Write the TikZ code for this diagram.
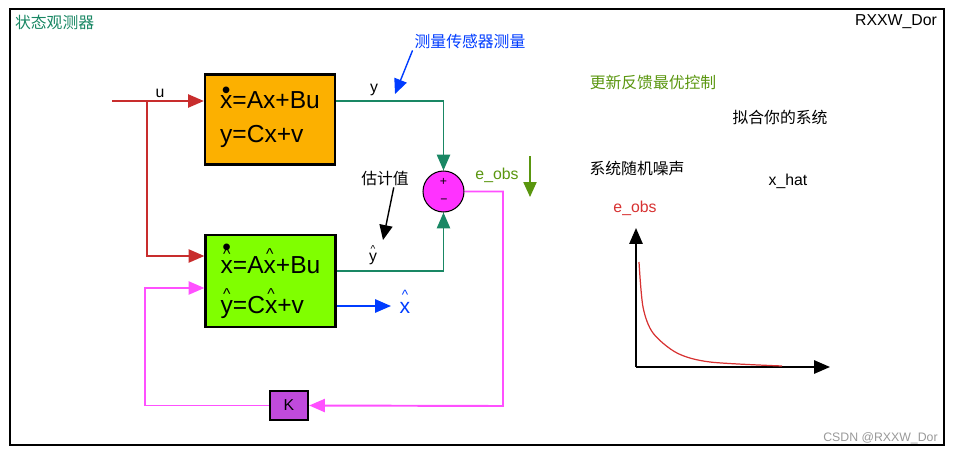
\documentclass[tikz,border=0pt]{standalone}
\usepackage{fontspec}
\usepackage{graphicx}
\setmainfont{Liberation Sans}
\newfontfamily\cjk{Noto Sans CJK SC}
\usetikzlibrary{arrows.meta}

\definecolor{sysorange}{RGB}{252,176,0}
\definecolor{obsgreen}{RGB}{128,255,0}
\definecolor{sigred}{RGB}{200,45,45}
\definecolor{sigteal}{RGB}{25,135,100}
\definecolor{sigmag}{RGB}{255,80,255}
\definecolor{sumfill}{RGB}{255,50,255}
\definecolor{gainfill}{RGB}{192,74,220}
\definecolor{sigblue}{RGB}{0,60,255}
\definecolor{noiseolive}{RGB}{90,150,15}
\definecolor{errred}{RGB}{215,50,50}

% mark set above a letter, keeping the letter's width
\newcommand\putabove[3]{\leavevmode\setbox0\hbox{#3}\hbox to\wd0{\hss\raisebox{#1}[0pt][0pt]{#2}\hss}\kern-\wd0\box0}
\newcommand\hatover[2][0.54em]{\putabove{#1}{\scalebox{0.64}{\textasciicircum}}{#2}}
\newcommand\dotover[2][0.38em]{\putabove{#1}{\textbullet}{#2}}

\tikzset{
  flow/.style={line width=1.1pt, -{Triangle[length=9pt,width=7.5pt]}},
  notearrow/.style={line width=0.8pt, -{Triangle[length=8.5pt,width=7.5pt]}},
  blockbox/.style={draw, line width=1.3pt, minimum width=2.6cm, minimum height=1.8cm,
    align=left, font=\fontsize{14}{19.8}\selectfont},
  lbl/.style={font=\fontsize{9}{11}\selectfont, inner sep=1pt},
  cjklbl/.style={font=\cjk\fontsize{9}{11}\selectfont, inner sep=1pt},
}

\begin{document}
\begin{tikzpicture}[x=0.02cm,y=-0.02cm]
    \useasboundingbox (0,0) rectangle (953,456);
    \draw[line width=1.3pt] (10,9) rectangle (944,445);

    \node[cjklbl, anchor=west, text=sigteal] (title) at (13,22) {状态观测器};
    \node[lbl, anchor=east] (author) at (939,22) {RXXW\_Dor};

    % blocks
    \node[blockbox, fill=sysorange] (plant) at (270,119.5) {\dotover{x}=Ax+Bu\\y=Cx+v};
    \node[blockbox, fill=obsgreen, minimum height=1.84cm] (observer) at (270.5,281)
        {\rule{0pt}{16.8pt}\dotover[0.74em]{\hatover{x}}=A\hatover{x}+Bu\\[2.9pt]\hatover{y}=C\hatover{x}+v};
    \node[draw, line width=0.6pt, circle, fill=sumfill, minimum size=0.82cm] (sum) at (443.5,191.5) {};
    \node[font=\fontsize{7}{8}\selectfont, inner sep=0] (splus) at (443.5,181.5) {+};
    \node[font=\fontsize{7}{8}\selectfont, inner sep=0] (sminus) at (444,201) {−};
    \node[draw, line width=1.3pt, fill=gainfill, minimum width=0.76cm, minimum height=0.58cm,
        font=\fontsize{9}{11}\selectfont] (gain) at (289,405.5) {K};

    % input u
    \coordinate (uin) at (112,101);
    \coordinate (ubranch) at (147,101);
    \coordinate (ulow) at (147,256);
    \draw[flow, sigred] (uin) -- (plant.west |- uin);
    \draw[flow, sigred] (ubranch) -- (ulow) -- (observer.west |- ulow);
    \node[lbl, anchor=base] (ulabel) at (160,97) {u};

    % measured and estimated outputs
    \draw[flow, sigteal] (plant.east |- uin) -| (sum.north);
    \node[lbl, anchor=base] (ylabel) at (374,92) {y};
    \coordinate (yhatout) at (336,271);
    \draw[flow, sigteal] (observer.east |- yhatout) -| (sum.south);
    \node[lbl, anchor=base] (yhatlabel) at (373,261) {\hatover{y}};

    % error feedback through K
    \coordinate (ecorner) at (503,406);
    \draw[flow, sigmag] (sum.east) -| (ecorner) -- (gain.east);
    \coordinate (kcorner) at (145,288);
    \draw[flow, sigmag] (gain.west) -| (kcorner) -- (observer.west |- kcorner);
    \node[lbl, anchor=base, text=noiseolive] (elabel) at (497,179) {e\_obs};

    % estimate out
    \coordinate (xhatend) at (391,306);
    \draw[flow, sigblue] (observer.east |- xhatend) -- (xhatend);
    \node[anchor=base, text=sigblue, font=\fontsize{12}{14}\selectfont] (xhatlabel) at (405,313) {\hatover[0.64em]{x}};

    % notes
    \node[cjklbl, text=sigblue] (sensor) at (470,41) {测量传感器测量};
    \coordinate (sensortip) at (395,94);
    \draw[notearrow, sigblue] (sensor.south west) -- (sensortip);
    \node[cjklbl] (est) at (385,178) {估计值};
    \coordinate (esttip) at (383,240);
    \draw[notearrow, black] ([xshift=5pt]est.south) -- (esttip);
    \coordinate (noisetop) at (530,156);
    \coordinate (noisetip) at (530,197);
    \draw[notearrow, noiseolive] (noisetop) -- (noisetip);

    \node[cjklbl, text=noiseolive] (update) at (653,82) {更新反馈最优控制};
    \node[cjklbl] (fit) at (780,117) {拟合你的系统};
    \node[cjklbl] (noise) at (637,168) {系统随机噪声};
    \node[lbl, anchor=base] (xhattext) at (788,185) {x\_hat};
    \node[lbl, anchor=base, text=errred] (eaxis) at (635,212) {e\_obs};

    % error decay plot
    \coordinate (origin) at (636,367);
    \coordinate (ytop) at (636,228);
    \coordinate (xend) at (830,367);
    \draw[flow, black] (origin) -- (ytop);
    \draw[flow, black] (origin) -- (xend);
    \draw[errred, line width=0.7pt] plot[smooth] coordinates
        {(639,262) (643,307) (653,333) (677,353) (710,362) (782,366)};

    \node[anchor=base east, text=black!40, font=\fontsize{7}{8}\selectfont, inner sep=0] (mark) at (938,441) {CSDN @RXXW\_Dor};
\end{tikzpicture}
\end{document}
